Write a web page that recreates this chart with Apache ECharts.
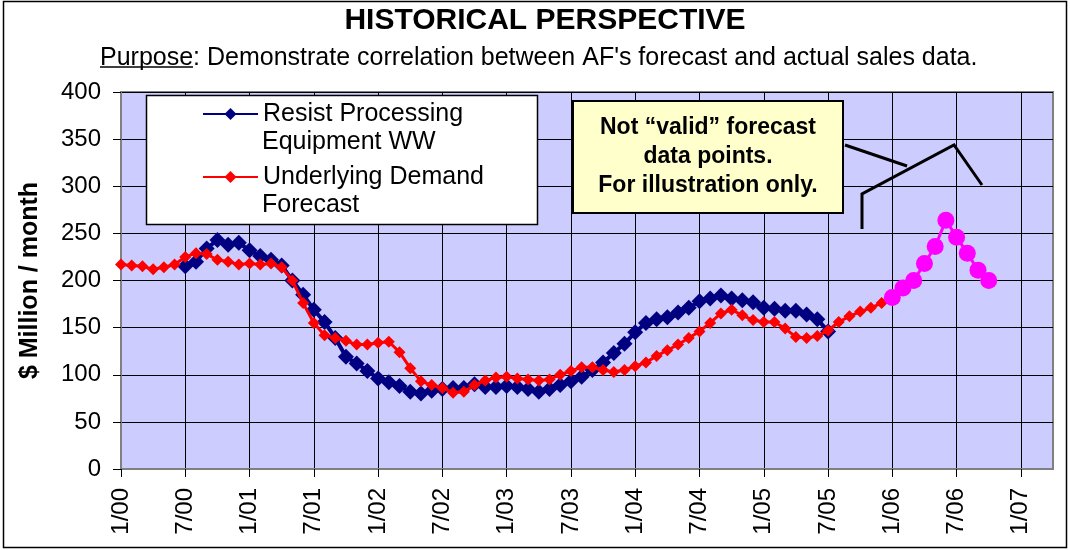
<!DOCTYPE html>
<html>
<head>
<meta charset="utf-8">
<script src="https://cdn.jsdelivr.net/npm/echarts@6/dist/echarts.min.js"></script>
<style>
html,body{margin:0;padding:0;background:#fff;}
#chart{width:1070px;height:550px;}
</style>
</head>
<body>
<div id="chart"></div>
<script>
// Month categories 1/00 .. 4/07
const categories = [];
for (let y = 0; y <= 7; y++) {
  for (let m = 1; m <= 12; m++) {
    if (categories.length < 88) categories.push(m + '/' + String(y).padStart(2, '0'));
  }
}
const yTicks = [0, 50, 100, 150, 200, 250, 300, 350, 400];

// Underlying Demand Forecast, starts at 1/00
const forecastStart = 0;
const forecastValues = [217, 216, 215, 212, 214, 217, 225, 229, 228, 222, 220, 217,
  218, 217, 218, 214, 200, 176, 155, 142, 139, 136, 132, 132,
  134, 135, 124, 107, 93, 89, 86, 81, 82, 89, 94, 97,
  98, 96, 95, 94, 95, 100, 104, 108, 108, 105, 103, 105,
  109, 113, 120, 126, 132, 139, 146, 155, 165, 169, 163, 158,
  156, 156, 149, 140, 139, 141, 147, 156, 162, 167, 171, 176, 182];

// Resist Processing Equipment WW, starts at 7/00
const resistStart = 6;
const resistValues = [215, 220, 234, 243, 238, 240,
  232, 226, 222, 216, 200, 185, 169, 156, 139, 119, 112, 104,
  96, 92, 88, 82, 80, 83, 85, 86, 86, 90, 87, 87,
  88, 87, 85, 82, 85, 89, 93, 98, 105, 113, 123, 133,
  145, 155, 159, 161, 166, 171, 178, 181, 184, 181, 179, 177,
  171, 170, 168, 168, 164, 159, 146];

// Illustration-only points, start at 1/06
const illusStart = 72;
const illusValues = [182, 192, 200, 218, 236, 264, 246, 229, 211, 200];

function place(start, values) {
  const arr = new Array(categories.length).fill(null);
  values.forEach((v, i) => { arr[start + i] = v; });
  return arr;
}

const FONT = 'Arial, "Liberation Sans", sans-serif';
const chart = echarts.init(document.getElementById('chart'));
chart.setOption({
  animation: false,
  backgroundColor: '#ffffff',
  title: [
    {
      text: 'HISTORICAL PERSPECTIVE',
      left: 545, top: 6, textAlign: 'center', padding: 0,
      textStyle: { fontFamily: FONT, fontSize: 30, fontWeight: 'bold', color: '#000' }
    },
    {
      text: 'Purpose: Demonstrate correlation between AF\'s forecast and actual sales data.',
      left: 100, top: 46, padding: 0,
      textStyle: { fontFamily: FONT, fontSize: 25, fontWeight: 'normal', color: '#000' }
    }
  ],
  legend: {
    orient: 'vertical',
    left: 202, top: 100,
    padding: 0,
    itemGap: 35,
    itemWidth: 55,
    itemHeight: 15,
    z: 20,
    data: ['Resist Processing Equipment WW', 'Underlying Demand Forecast'],
    formatter: function (n) { return n === 'Resist Processing Equipment WW' ? 'Resist Processing' : 'Underlying Demand'; },
    textStyle: { fontFamily: FONT, fontSize: 25, lineHeight: 28, color: '#000' }
  },
  grid: {
    left: 121, top: 92, right: 17, bottom: 81,
    show: true, backgroundColor: '#CCCCFF', borderColor: '#808080', borderWidth: 2
  },
  xAxis: {
    type: 'category',
    data: categories,
    boundaryGap: false,
    axisLine: { lineStyle: { color: '#808080', width: 2 } },
    axisTick: { show: true, interval: 5, length: 8, lineStyle: { color: '#000' } },
    axisLabel: { interval: 5, rotate: 90, margin: 19, fontFamily: FONT, fontSize: 24, color: '#000' },
    splitLine: { show: true, interval: 5, lineStyle: { color: '#000', width: 1 } }
  },
  yAxis: {
    type: 'value',
    min: yTicks[0], max: yTicks[yTicks.length - 1], interval: 50,
    name: '$ Million / month',
    nameLocation: 'middle',
    nameGap: 78,
    nameTextStyle: { fontFamily: FONT, fontSize: 25, fontWeight: 'bold', color: '#000' },
    axisLine: { show: true, lineStyle: { color: '#808080', width: 2 } },
    axisTick: { show: true, length: 8, lineStyle: { color: '#000' } },
    axisLabel: { margin: 20, fontFamily: FONT, fontSize: 24, color: '#000' },
    splitLine: { show: true, lineStyle: { color: '#000', width: 1 } }
  },
  series: [
    {
      name: 'Resist Processing Equipment WW',
      type: 'line',
      data: place(resistStart, resistValues),
      symbol: 'diamond', symbolSize: 16, showAllSymbol: true,
      lineStyle: { color: '#000080', width: 4 },
      itemStyle: { color: '#000080' },
      z: 3
    },
    {
      name: 'Underlying Demand Forecast',
      type: 'line',
      data: place(forecastStart, forecastValues),
      symbol: 'diamond', symbolSize: 12, showAllSymbol: true,
      lineStyle: { color: '#FF0000', width: 3 },
      itemStyle: { color: '#FF0000' },
      z: 4
    },
    {
      name: 'Illustration',
      type: 'line',
      data: place(illusStart, illusValues),
      symbol: 'circle', symbolSize: 17, showAllSymbol: true,
      lineStyle: { color: '#FF00FF', width: 3 },
      itemStyle: { color: '#FF00FF' },
      z: 5
    }
  ],
  graphic: [
    { type: 'rect', z: 1, shape: { x: 3.5, y: 1.5, width: 1063, height: 546 }, style: { fill: 'none', stroke: '#000', lineWidth: 1.5 } },
    { type: 'line', z: 30, shape: { x1: 100, y1: 67, x2: 193, y2: 67 }, style: { stroke: '#000', lineWidth: 1.5 } },
    { type: 'rect', z: 10, shape: { x: 146.5, y: 95.5, width: 391, height: 129 }, style: { fill: '#ffffff', stroke: '#000', lineWidth: 1.5 } },
    { type: 'text', z: 30, style: { text: 'Equipment WW', x: 262, y: 142, font: '25px ' + FONT, fill: '#000', verticalAlign: 'middle', align: 'left' } },
    { type: 'text', z: 30, style: { text: 'Forecast', x: 262, y: 205, font: '25px ' + FONT, fill: '#000', verticalAlign: 'middle', align: 'left' } },
    { type: 'rect', z: 10, shape: { x: 573, y: 101, width: 270, height: 112 }, style: { fill: '#FFFFCC', stroke: '#000', lineWidth: 2 } },
    { type: 'text', z: 30, style: { text: 'Not \u201cvalid\u201d forecast', x: 708, y: 128, font: 'bold 23px ' + FONT, fill: '#000', verticalAlign: 'middle', align: 'center' } },
    { type: 'text', z: 30, style: { text: 'data points.', x: 708, y: 157, font: 'bold 23px ' + FONT, fill: '#000', verticalAlign: 'middle', align: 'center' } },
    { type: 'text', z: 30, style: { text: 'For illustration only.', x: 708, y: 186, font: 'bold 23px ' + FONT, fill: '#000', verticalAlign: 'middle', align: 'center' } },
    { type: 'line', z: 30, shape: { x1: 845, y1: 145, x2: 907, y2: 166 }, style: { stroke: '#000', lineWidth: 3 } },
    { type: 'polyline', z: 30, shape: { points: [[862, 229], [862, 194], [954, 145], [982, 185]] }, style: { stroke: '#000', lineWidth: 3, fill: null } }
  ]
});
</script>
</body>
</html>
